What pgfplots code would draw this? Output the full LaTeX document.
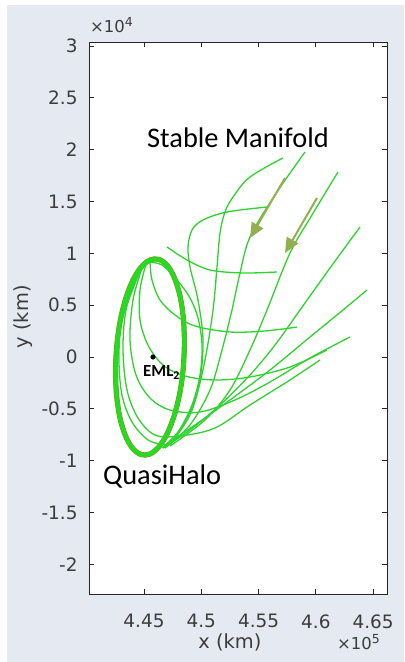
\documentclass[border=0pt]{standalone}
\usepackage{fontspec}
\setmainfont{DejaVu Sans}
\newfontfamily\calibri{Carlito}
\usepackage{pgfplots}
\pgfplotsset{compat=1.18}
\usetikzlibrary{arrows.meta}

\definecolor{figbg}{RGB}{229,234,242}
\definecolor{axisgray}{RGB}{38,38,38}
\definecolor{tickgray}{RGB}{60,60,60}
\definecolor{mgreen}{RGB}{45,212,45}
\definecolor{ogreen}{RGB}{30,222,30}
\definecolor{obrown}{RGB}{200,105,45}
\definecolor{arrowc}{RGB}{146,176,80}

\newcommand\tickfont{\fontsize{18.5}{20}\selectfont}
\newcommand\labfont{\fontsize{19.5}{21}\selectfont}

\pgfplotsset{mani/.style={no marks, smooth, tension=0.55, line width=1.3bp, draw=mgreen}}

\begin{document}
\begin{tikzpicture}[x=1bp,y=1bp]
\useasboundingbox (0,0) rectangle (404,662);
\fill[figbg] (7,0) rectangle (404,657);
\begin{axis}[
    at={(89bp,68bp)}, anchor=south west,
    width=298bp, height=552bp, scale only axis,
    axis background/.style={fill=white},
    xmin=440198, xmax=466214, ymin=-22871, ymax=30398,
    xtick={445000,450000,455000,460000,465000},
    ytick={-20000,-15000,-10000,-5000,0,5000,10000,15000,20000,25000,30000},
    scaled x ticks=base 10:-5, scaled y ticks=base 10:-4,
    xtick scale label code/.code={}, ytick scale label code/.code={},
    tick align=inside, xtick pos=both, ytick pos=both,
    major tick length=5bp,
    axis line style={draw=axisgray, line width=0.9bp},
    every tick/.style={axisgray, line width=0.9bp},
    /pgf/number format/assume math mode=true,
    ticklabel style={font=\tickfont, text=tickgray},
    xticklabel style={yshift=-17bp},
    yticklabel style={xshift=-8bp},
    xlabel={x (km)}, ylabel={y (km)},
    xlabel style={font=\labfont, text=tickgray, at={(axis description cs:0.473,-0.088)}, anchor=center},
    ylabel style={font=\labfont, text=tickgray, at={(axis description cs:-0.22,0.502)}, anchor=center},
    clip=false,
]
% quasi-halo orbit (outline, then band)
\addplot[no marks, smooth, tension=0.55, line width=5.2bp, draw=obrown] coordinates {
(448536,1448) (448431,3821) (448134,5935) (447654,7643) (447030,8830) (446301,9418)
(445524,9361) (444747,8666) (444018,7382) (443394,5597) (442914,3426) (442617,1023)
(442512,-1448) (442617,-3821) (442914,-5935) (443394,-7643) (444018,-8830) (444747,-9418)
(445524,-9361) (446301,-8666) (447030,-7382) (447654,-5597) (448134,-3426) (448431,-1023)
(448536,1448)};
\addplot[no marks, smooth, tension=0.55, line width=4.4bp, draw=ogreen] coordinates {
(448536,1448) (448431,3821) (448134,5935) (447654,7643) (447030,8830) (446301,9418)
(445524,9361) (444747,8666) (444018,7382) (443394,5597) (442914,3426) (442617,1023)
(442512,-1448) (442617,-3821) (442914,-5935) (443394,-7643) (444018,-8830) (444747,-9418)
(445524,-9361) (446301,-8666) (447030,-7382) (447654,-5597) (448134,-3426) (448431,-1023)
(448536,1448)};
% stable manifold trajectories
\addplot[mani] coordinates {(464468,6466) (462373,4536) (459492,1930) (456000,-1255) (452508,-4150) (449452,-6562) (446833,-8492)};
\addplot[mani] coordinates {(463857,12545) (461238,8589) (458619,4536) (456436,1158) (454254,-1737) (451635,-4632) (449016,-7045) (446659,-8782)};
\addplot[mani] coordinates {(461936,17853) (459666,13703) (457746,10036) (455738,4536) (454254,676) (452508,-3185) (450325,-6080) (447270,-8589)};
\addplot[mani] coordinates {(459055,19783) (456436,15633) (454254,11580) (453381,8106) (452682,4536) (451809,676) (450762,-3185) (449016,-6562) (446833,-8782)};
\addplot[mani] coordinates {(457135,19204) (454254,17370) (452770,15440) (452071,13993) (451635,11966) (451373,8685) (451024,4536) (450325,-290) (449452,-4150) (448143,-7045) (446659,-8782)};
\addplot[mani] coordinates {(455738,14475) (452246,13993) (450151,13221) (449190,12256) (448841,10615) (449016,8685) (449714,5501) (450151,1641) (449889,-2220) (449016,-5597) (447270,-8492)};
\addplot[mani] coordinates {(447008,10615) (448754,9361) (450762,8396) (453643,8106) (456611,8203)};
\addplot[mani] coordinates {(445524,9168) (445698,7431) (446397,5501) (447706,4053) (449452,2992) (452508,2413) (455563,2509) (458357,2895)};
\addplot[mani] coordinates {(445175,8975) (444651,6466) (444651,3571) (445349,1158) (446659,-772) (448579,-1834) (451198,-2220) (454254,-1930) (457746,-965) (460976,676)};
\addplot[mani] coordinates {(444825,8589) (444040,5501) (443778,1641) (444302,-1737) (445524,-3957) (447270,-5115) (449889,-5308) (452944,-4150) (456000,-2413) (459492,-97) (462984,1930)};
\addplot[mani] coordinates {(444476,8203) (443429,4536) (443167,676) (443516,-3185) (444476,-5887) (445960,-7527) (448143,-7624) (451198,-6852) (454254,-4632) (457746,-2220) (460365,-290)};
\addplot[mani] coordinates {(444564,8010) (443079,3571) (442818,-290) (443079,-3667) (443952,-6273) (445349,-8010) (446833,-8492)};
\addplot[mani] coordinates {(445349,9168) (446571,8878) (447881,7431) (449016,5694) (449714,3764) (450063,1158) (449889,-1737) (449190,-4632) (447968,-7238) (446571,-8782)};
% EML2 point
\addplot[only marks, mark=*, mark size=2.3bp, black] coordinates {(445786,0)};
% annotation arrows
\addplot[arrowc, line width=2bp, -{Triangle[length=15bp,width=13bp]}] coordinates {(457309,17274) (454254,11484)};
\addplot[arrowc, line width=2bp, -{Triangle[length=15bp,width=13bp]}] coordinates {(460103,15344) (457309,10036)};
% texts
\node[anchor=base west, inner sep=0pt, font=\calibri\fontsize{28.5}{30}\selectfont] at (axis cs:445262,20169) {Stable Manifold};
\node[anchor=base west, inner sep=0pt, font=\calibri\fontsize{28.5}{30}\selectfont] at (axis cs:441421,-12352) {QuasiHalo};
\node[anchor=base west, inner sep=0pt, font=\calibri\bfseries\fontsize{17}{18}\selectfont] at (axis cs:444913,-1930) {EML\textsubscript{2}};
\node[anchor=base west, inner sep=0pt, font=\fontsize{16.5}{17}\selectfont, text=tickgray] at (axis cs:440286,31266) {×10\raisebox{0.75ex}{\fontsize{12.5}{13}\selectfont 4}};
\node[anchor=base west, inner sep=0pt, font=\fontsize{16.5}{17}\selectfont, text=tickgray] at (axis cs:461849,-28275) {×10\raisebox{0.75ex}{\fontsize{12.5}{13}\selectfont 5}};
\end{axis}
\end{tikzpicture}
\end{document}
